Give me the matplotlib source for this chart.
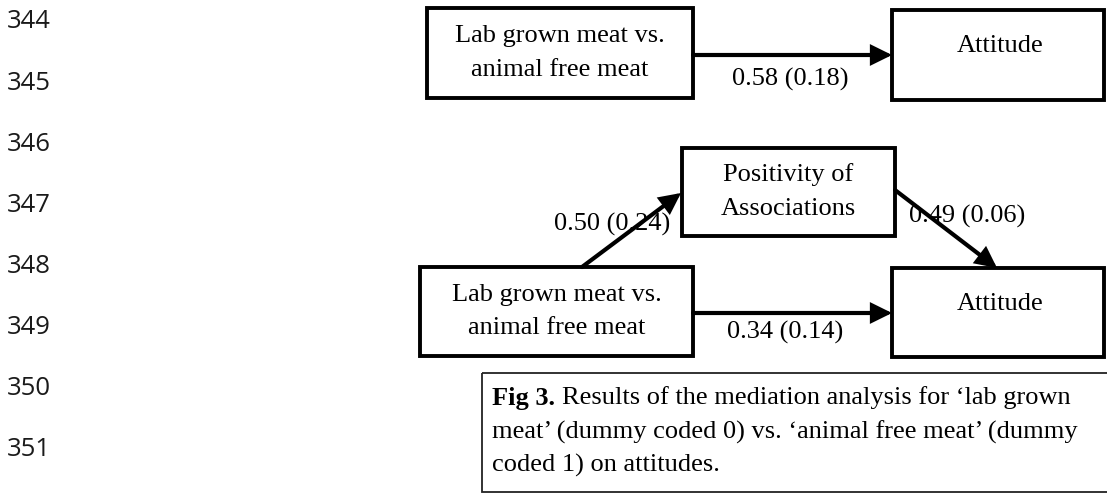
import matplotlib
matplotlib.use("Agg")
import matplotlib.pyplot as plt
from matplotlib.patches import Rectangle, FancyArrowPatch

# manuscript line numbers in the margin
line_numbers = [344, 345, 346, 347, 348, 349, 350, 351]

# node labels
predictor = ["Lab grown meat vs.", "animal free meat"]
mediator = ["Positivity of", "Associations"]
outcome = ["Attitude"]

# path coefficients: estimate, (se)
total_effect = [0.58, 0.18]
path_a = [0.50, 0.24]
path_b = [0.49, 0.06]
direct_effect = [0.34, 0.14]

caption_bold = "Fig 3. "
caption_lines = [
    "Results of the mediation analysis for \u2018lab grown",
    "meat\u2019 (dummy coded 0) vs. \u2018animal free meat\u2019 (dummy",
    "coded 1) on attitudes.",
]

# layout in pixel units of the page (x0, y0, x1, y1), y downwards
boxes = {
    "pred_top": (427, 8, 693, 98),
    "out_top": (892, 10, 1104, 100),
    "med": (682, 148, 895, 236),
    "pred_bot": (420, 267, 693, 356),
    "out_bot": (892, 268, 1104, 357),
}
serif = ["Liberation Serif", "DejaVu Serif"]
fs = 19

fig = plt.figure(figsize=(11.07, 4.96), dpi=100)
ax = fig.add_axes([0, 0, 1, 1])
ax.set_xlim(0, 1107)
ax.set_ylim(496, 0)
ax.axis("off")

# line numbers
for i, n in enumerate(line_numbers):
    ax.text(7, 22 + 61.1 * i, str(n), family=["Open Sans", "DejaVu Sans"],
            fontsize=18.5, color="#1a1a1a", va="center", ha="left")


def box(key, lines):
    x0, y0, x1, y1 = boxes[key]
    ax.add_patch(Rectangle((x0, y0), x1 - x0, y1 - y0, fill=False,
                           lw=2.8, ec="black", joinstyle="miter"))
    cx = (x0 + x1) / 2 if len(lines) > 1 else x0 + 108
    cy = (y0 + y1) / 2
    if len(lines) == 1:
        ax.text(cx, y0 + 36, lines[0], family=serif, fontsize=fs,
                ha="center", va="center")
    else:
        for j, s in enumerate(lines):
            ax.text(cx, cy - 17 + 34 * j, s, family=serif, fontsize=fs,
                    ha="center", va="center")


box("pred_top", predictor)
box("out_top", outcome)
box("med", mediator)
box("pred_bot", predictor)
box("out_bot", outcome)


def arrow(p, q):
    a = FancyArrowPatch(p, q, arrowstyle="-|>,head_length=0.85,head_width=0.42",
                        mutation_scale=13, lw=3, color="black",
                        shrinkA=0, shrinkB=0, joinstyle="miter")
    ax.add_patch(a)


arrow((693, 55), (892, 55))
arrow((582, 267), (681, 193))
arrow((895, 190), (997, 268))
arrow((693, 313), (892, 313))


def coef(v):
    return "%.2f (%.2f)" % (v[0], v[1])


ax.text(790, 79, coef(total_effect), family=serif, fontsize=fs, ha="center", va="center")
ax.text(612, 224, coef(path_a), family=serif, fontsize=fs, ha="center", va="center")
ax.text(967, 216, coef(path_b), family=serif, fontsize=fs, ha="center", va="center")
ax.text(785, 332, coef(direct_effect), family=serif, fontsize=fs, ha="center", va="center")

# caption box
ax.add_patch(Rectangle((482, 373), 640, 119, fill=False, lw=1.3, ec="#222222"))
tx = 492
ys = [398, 432, 465]
b = ax.text(tx, ys[0], caption_bold, family=serif, fontsize=fs,
            fontweight="bold", ha="left", va="center")
fig.canvas.draw()
ext = b.get_window_extent(fig.canvas.get_renderer())
xend = ax.transData.inverted().transform((ext.x1, ext.y0))[0]
ax.text(xend, ys[0], caption_lines[0], family=serif, fontsize=fs, ha="left", va="center")
for s, y in zip(caption_lines[1:], ys[1:]):
    ax.text(tx, y, s, family=serif, fontsize=fs, ha="left", va="center")

fig.savefig("out.png", dpi=100)
